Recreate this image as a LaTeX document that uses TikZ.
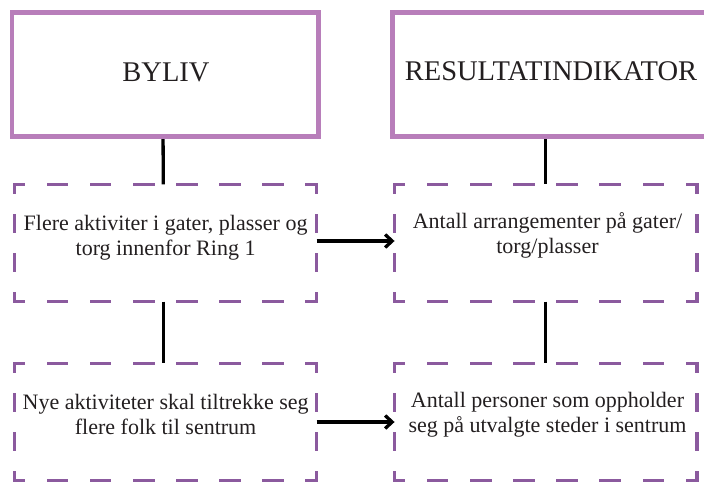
\documentclass[tikz,border=0pt]{standalone}
\usepackage{fontspec}
\setmainfont{Liberation Serif}
\usetikzlibrary{arrows.meta}
\definecolor{framepink}{RGB}{184,126,186}
\definecolor{dashpurple}{RGB}{139,90,158}
\definecolor{inkgray}{RGB}{35,31,32}

% draws the four dashed sides of a frame around a named node
\newcommand\dashframe[1]{%
  \draw[hside] (#1.north west) -- (#1.north east);
  \draw[hside] (#1.south west) -- (#1.south east);
  \draw[vside] (#1.north west) -- (#1.south west);
  \draw[vside] (#1.north east) -- (#1.south east);
}

\begin{document}
\begin{tikzpicture}[x=1pt, y=-1pt, line join=miter,
  solidbox/.style={draw=framepink, line width=4.6pt, inner sep=0pt,
    minimum height=119.2pt},
  dashslot/.style={inner sep=0pt, minimum width=302pt, minimum height=117pt},
  hside/.style={draw=dashpurple, line width=3.4pt, line cap=rect,
    dash pattern=on 18.17pt off 24.97pt, dash phase=9.09pt},
  vside/.style={draw=dashpurple, line width=3.4pt, line cap=rect,
    dash pattern=on 16.1pt off 22.9pt, dash phase=8.05pt},
  link/.style={draw=black, line width=3.3pt},
  arr/.style={link, -{Straight Barb[length=7pt, width=13pt]}},
  title/.style={text=inkgray, font=\fontsize{28.5}{30}\selectfont,
    inner sep=0pt, anchor=base},
  body/.style={text=inkgray, font=\fontsize{22}{25}\selectfont,
    align=center, inner sep=0pt, anchor=base}]

\useasboundingbox (0,0) rectangle (704,484);
\clip (0,0) rectangle (704,484);

% frame slots
\node[solidbox, draw=none, minimum width=301.9pt] (ltop) at (165.25,74.6) {};
\node[solidbox, draw=none, minimum width=321pt] (rtop) at (555.5,74.6) {};
\node[dashslot] (bL1) at (165.5,243) {};
\node[dashslot] (bR1) at (545.75,243) {};
\node[dashslot] (bL2) at (165.5,422) {};
\node[dashslot] (bR2) at (545.75,422) {};

% vertical connectors
\draw[link] ([xshift=-2.2pt]ltop.south) -- ([xshift=-2.2pt]bL1.north);
\draw[link] ([xshift=-2.2pt]bL1.south) -- ([xshift=-2.2pt]bL2.north);
\draw[link] (bR1.north |- rtop.south) -- (bR1.north);
\draw[link] (bR1.south) -- (bR2.north);

% horizontal arrows
\draw[arr] ([yshift=2pt]bL1.east) -- ([yshift=2pt]bR1.west);
\draw[arr] (bL2.east) -- (bR2.west);

% solid frames
\draw[framepink, line width=4.6pt] (ltop.north west) rectangle (ltop.south east);
\draw[framepink, line width=4.6pt] (rtop.north west) rectangle (rtop.south east);

% dashed frames
\dashframe{bL1}
\dashframe{bR1}
\dashframe{bL2}
\dashframe{bR2}

% texts (base anchor sits on the last line)
\node[title] (tl) at (166,81.7) {BYLIV};
\node[title] (tr) at (551,80.9) {RESULTATINDIKATOR};
\node[body] (xL1) at (165.6,255) {Flere aktiviter i gater, plasser og\\torg innenfor Ring 1};
\node[body] (xR1) at (547.5,253.5) {Antall arrangementer på gater/\\torg/plasser};
\node[body] (xL2) at (165.6,434) {Nye aktiviteter skal tiltrekke seg\\flere folk til sentrum};
\node[body] (xR2) at (547.5,432.5) {Antall personer som oppholder\\seg på utvalgte steder i sentrum};
\end{tikzpicture}
\end{document}
